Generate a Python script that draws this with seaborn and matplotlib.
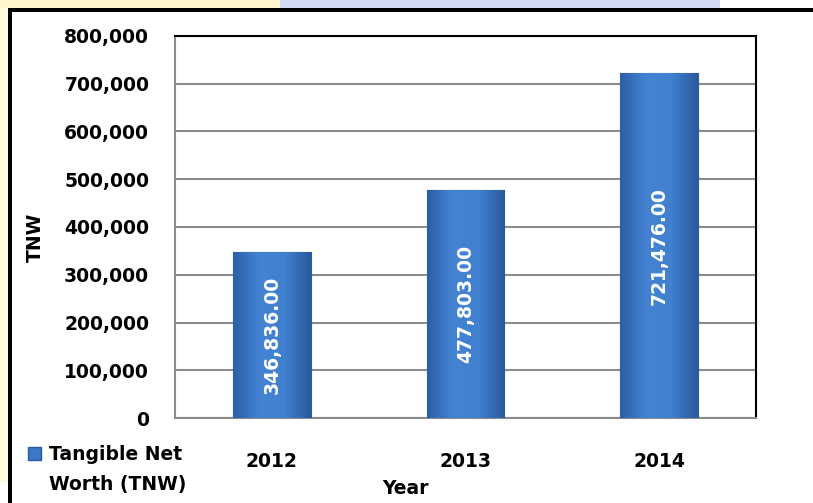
import matplotlib
matplotlib.use("Agg")
import matplotlib.pyplot as plt
import seaborn as sns
import numpy as np
import pandas as pd
from matplotlib.patches import Rectangle
from matplotlib.legend_handler import HandlerPatch
from matplotlib.colors import LinearSegmentedColormap
from matplotlib.ticker import FuncFormatter, MultipleLocator

# data
years = ["2012", "2013", "2014"]
tnw = [346836.00, 477803.00, 721476.00]
series_name = "Tangible Net\nWorth (TNW)"

df = pd.DataFrame({"Year": years, "TNW": tnw})

sns.set_style("white")
plt.rcParams["font.family"] = ["DejaVu Sans"]
plt.rcParams["font.weight"] = "bold"
plt.rcParams["text.color"] = "black"
plt.rcParams["axes.labelcolor"] = "black"
plt.rcParams["xtick.labelcolor"] = "black"
plt.rcParams["ytick.labelcolor"] = "black"

FS = 13.5
bar_blue = "#3b78c6"
fig = plt.figure(figsize=(8.13, 5.03), dpi=100)
ax = fig.add_axes([175 / 813, 1 - 418 / 503, 581 / 813, 382 / 503])

sns.barplot(data=df, x="Year", y="TNW", color=bar_blue, width=0.40,
            saturation=1, edgecolor="#2b5c9e", linewidth=0.8, ax=ax, zorder=3)

# horizontal gradient inside each bar (dark edges, lighter middle)
grad = LinearSegmentedColormap.from_list("bar_grad", ["#2c5fa6", "#4483d2", "#4080cf", "#2a5a9e"])
for p in ax.patches:
    x0, w, h = p.get_x(), p.get_width(), p.get_height()
    im = ax.imshow(np.linspace(0, 1, 64).reshape(1, -1), cmap=grad, aspect="auto",
                   extent=(x0, x0 + w, 0, h), zorder=4)
    im.set_clip_path(p)
    ax.text(x0 + w / 2, h / 2, f"{h:,.2f}", rotation=90, ha="center", va="center",
            color="white", fontsize=FS, fontweight="bold", zorder=5)

ax.set_xlim(-0.5, 2.5)
ax.set_ylim(0, 800000)
ax.yaxis.set_major_locator(MultipleLocator(100000))
ax.yaxis.set_major_formatter(FuncFormatter(lambda v, _: f"{v:,.0f}"))
ax.grid(axis="y", color="#8c8c8c", linewidth=1.5, zorder=0)
ax.set_axisbelow(True)

for side in ["left", "bottom"]:
    ax.spines[side].set_color("#8c8c8c")
    ax.spines[side].set_linewidth(1.5)
for side in ["top", "right"]:
    ax.spines[side].set_color("black")
    ax.spines[side].set_linewidth(1.5)

ax.tick_params(axis="y", length=0, pad=18.5, labelsize=FS, labelcolor="black")
ax.tick_params(axis="x", length=3.6, width=1, color="#8c8c8c", direction="out",
               pad=21, labelsize=FS, labelcolor="black")
for lab in ax.get_xticklabels() + ax.get_yticklabels():
    lab.set_fontweight("bold")

ax.set_ylabel("TNW", fontsize=FS, fontweight="bold", color="black")
ax.yaxis.set_label_coords(-0.224, 0.474)
ax.set_xlabel("Year", fontsize=FS, fontweight="bold", color="black")
ax.xaxis.set_label_coords(0.396, -0.160)

LINE_STEP = 12.0  # points: lifts the marker from the last label line to the first


# legend marker sits next to the first line of the two-line label
def upper_square(legend, orig_handle, xdescent, ydescent, width, height, fontsize):
    s = fontsize * 0.7
    return Rectangle((-xdescent + (width - s) / 2, -ydescent + LINE_STEP), s, s)


handle = Rectangle((0, 0), 1, 1, facecolor=bar_blue, edgecolor="#2b5c9e")
leg = fig.legend([handle], [series_name], loc="upper left",
                 bbox_to_anchor=(28 / 813, 1 - 445 / 503),
                 frameon=False, prop={"size": FS, "weight": "bold"}, handlelength=0.7,
                 handletextpad=0.4, borderaxespad=0, borderpad=0,
                 handler_map={Rectangle: HandlerPatch(patch_func=upper_square)})
for t in leg.get_texts():
    t.set_linespacing(1.75)
    t.set_color("black")

# frame decoration of the original slide
fig.patches.append(Rectangle((0, 0.04), 8 / 813, 0.96, transform=fig.transFigure,
                             facecolor="#fffbe0", edgecolor="none", zorder=0))
fig.patches.append(Rectangle((0, 1 - 8 / 503), 280 / 813, 8 / 503, transform=fig.transFigure,
                             facecolor="#fdf6cf", edgecolor="none", zorder=0))
fig.patches.append(Rectangle((280 / 813, 1 - 8 / 503), 440 / 813, 8 / 503, transform=fig.transFigure,
                             facecolor="#d3dcf4", edgecolor="none", zorder=0))
fig.patches.append(Rectangle((8 / 813, 1 - 12 / 503), 805 / 813, 4 / 503, transform=fig.transFigure,
                             facecolor="black", edgecolor="none", zorder=1))
fig.patches.append(Rectangle((8 / 813, 0), 4 / 813, 1 - 8 / 503, transform=fig.transFigure,
                             facecolor="black", edgecolor="none", zorder=1))

fig.savefig("out.png", dpi=100)
plt.close(fig)
